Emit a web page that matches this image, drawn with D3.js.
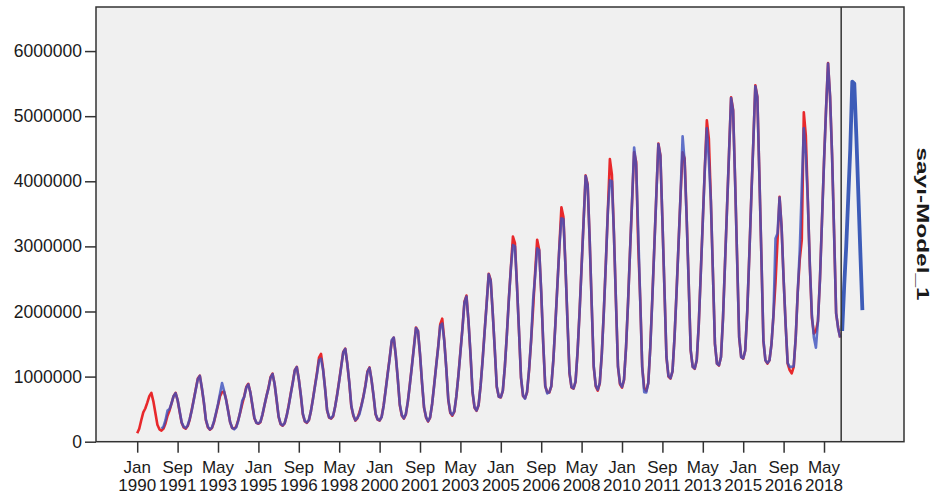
<!DOCTYPE html>
<html>
<head>
<meta charset="utf-8">
<script src="https://cdn.jsdelivr.net/npm/d3@7"></script>
<style>
  body { margin: 0; background: #fff; }
  svg text { font-family: Arial, "Liberation Sans", sans-serif; fill: #1a1a1a; }
</style>
</head>
<body>
<svg id="chart" width="933" height="494"></svg>
<script>
// monthly values, in thousands; observed Jan 1990 .. Jan 2019
const observed = [
  130, 200, 330, 450, 510, 600, 700, 750, 620, 440, 260, 190,
  170, 200, 280, 400, 480, 590, 700, 750, 640, 460, 290, 220,
  200, 240, 340, 490, 650, 810, 970, 1015, 820, 600, 330, 220,
  185, 210, 300, 430, 560, 700, 760, 770, 650, 480, 300, 210,
  200, 230, 330, 450, 580, 700, 840, 890, 760, 560, 360, 290,
  275, 300, 410, 560, 700, 830, 990, 1045, 890, 640, 380, 270,
  245, 280, 400, 560, 740, 910, 1100, 1150, 960, 710, 420, 310,
  290, 330, 470, 660, 860, 1060, 1290, 1350, 1120, 820, 480, 370,
  355, 390, 540, 730, 940, 1160, 1380, 1430, 1200, 900, 540, 400,
  325, 360, 450, 560, 700, 870, 1080, 1140, 950, 700, 420, 340,
  325, 380, 560, 800, 1050, 1290, 1540, 1600, 1320, 960, 560, 400,
  355, 420, 620, 890, 1170, 1460, 1755, 1700, 1340, 900, 520, 370,
  310, 370, 580, 870, 1170, 1460, 1800, 1890, 1560, 1130, 640, 440,
  400, 460, 700, 1020, 1380, 1740, 2150, 2245, 1850, 1340, 760, 520,
  475, 560, 860, 1260, 1700, 2130, 2580, 2480, 1980, 1420, 840, 690,
  680, 780, 1150, 1650, 2200, 2680, 3150, 3050, 2400, 1700, 980, 700,
  670, 760, 1100, 1550, 2050, 2600, 3100, 2950, 2300, 1500, 850, 760,
  755, 850, 1250, 1800, 2400, 3000, 3600, 3450, 2700, 1850, 1050, 830,
  815, 920, 1380, 2000, 2700, 3400, 4090, 3950, 3100, 2100, 1150, 850,
  785, 900, 1350, 2000, 2750, 3550, 4340, 4100, 3200, 2150, 1150, 880,
  830, 950, 1450, 2150, 2950, 3700, 4450, 4300, 3050, 2200, 1150, 820,
  780, 900, 1450, 2200, 3000, 3800, 4580, 4400, 3400, 2350, 1300, 1000,
  970, 1080, 1600, 2300, 3050, 3800, 4445, 4350, 3450, 2450, 1400, 1150,
  1120, 1250, 1800, 2600, 3400, 4200, 4935, 4650, 3700, 2600, 1500, 1200,
  1170, 1300, 1900, 2750, 3600, 4450, 5290, 5100, 4000, 2800, 1600, 1300,
  1275, 1400, 2000, 2850, 3750, 4600, 5475, 5300, 4100, 2850, 1550, 1250,
  1200, 1250, 1500, 1950, 2450, 3100, 3760, 3300, 2500, 1800, 1200, 1100,
  1050, 1150, 1600, 2300, 2800, 3100, 5060, 4700, 3700, 2700, 1900, 1660,
  1700, 1850, 2500, 3400, 4300, 5100, 5815, 5300, 4400, 3200, 1970, 1750,
  1600
];

// model fit, Jan 1991 .. Jan 2019
const fitted = [
  200, 230, 330, 477, 500, 590, 700, 745, 640, 470, 300, 230,
  210, 250, 350, 480, 640, 800, 960, 1010, 830, 610, 340, 230,
  190, 215, 310, 440, 580, 740, 900, 780, 640, 470, 300, 215,
  190, 220, 320, 460, 630, 690, 830, 880, 760, 570, 370, 290,
  280, 305, 420, 560, 700, 820, 980, 1040, 890, 650, 390, 275,
  250, 285, 400, 550, 730, 900, 1090, 1145, 960, 720, 430, 315,
  295, 335, 470, 650, 850, 1040, 1250, 1275, 1110, 820, 490, 375,
  360, 400, 540, 720, 930, 1150, 1370, 1425, 1200, 910, 550, 410,
  330, 365, 420, 550, 690, 860, 1070, 1135, 950, 710, 430, 345,
  330, 380, 550, 790, 1040, 1280, 1560, 1600, 1330, 970, 570, 410,
  360, 425, 620, 880, 1160, 1450, 1745, 1700, 1350, 910, 530, 380,
  315, 375, 580, 860, 1160, 1450, 1780, 1815, 1550, 1130, 650, 450,
  410, 470, 700, 1010, 1370, 1730, 2140, 2230, 1850, 1350, 770, 530,
  480, 565, 860, 1250, 1690, 2120, 2570, 2470, 1980, 1430, 850, 690,
  685, 785, 1150, 1640, 2190, 2670, 3020, 3000, 2400, 1710, 990, 710,
  660, 770, 1110, 1560, 2180, 2550, 2970, 2940, 2310, 1520, 860, 740,
  760, 855, 1250, 1790, 2390, 2990, 3430, 3420, 2700, 1860, 1060, 840,
  820, 925, 1380, 1990, 2690, 3390, 4080, 3940, 3100, 2110, 1160, 860,
  800, 905, 1350, 1990, 2740, 3540, 4015, 4000, 3190, 2160, 1160, 900,
  840, 955, 1450, 2140, 2940, 3710, 4520, 4250, 3250, 2190, 1150, 760,
  755, 900, 1440, 2190, 2990, 3790, 4570, 4390, 3400, 2360, 1310, 1010,
  975, 1085, 1600, 2290, 3040, 3800, 4690, 4300, 3440, 2450, 1410, 1150,
  1125, 1255, 1800, 2590, 3390, 4190, 4815, 4320, 3690, 2600, 1510, 1200,
  1175, 1300, 1890, 2740, 3590, 4440, 5280, 5080, 3990, 2800, 1610, 1300,
  1280, 1400, 1990, 2840, 3740, 4590, 5460, 5290, 4090, 2850, 1560, 1250,
  1210, 1250, 1500, 1960, 3120, 3200, 3750, 3290, 2500, 1800, 1210, 1150,
  1150, 1160, 1600, 2300, 2950, 3900, 4815, 4400, 3690, 2700, 1950, 1600,
  1445, 1850, 2490, 3390, 4290, 5090, 5810, 5300, 4390, 3200, 1980, 1740,
  1600
];

// forecast, Feb 2019 .. Dec 2019
const forecast = [1700, 2400, 3000, 3750, 4500, 5530, 5500, 4700, 3800, 2900, 2020];

const startYear = 1990;
const fitStart = 12;        // Jan 1991
const forecastStart = 349;  // Feb 2019
const monthNames = ["Jan","Feb","Mar","Apr","May","Jun","Jul","Aug","Sep","Oct","Nov","Dec"];
const xTickLabels = [
  ["Jan","1990"],["Sep","1991"],["May","1993"],["Jan","1995"],["Sep","1996"],["May","1998"],
  ["Jan","2000"],["Sep","2001"],["May","2003"],["Jan","2005"],["Sep","2006"],["May","2008"],
  ["Jan","2010"],["Sep","2011"],["May","2013"],["Jan","2015"],["Sep","2016"],["May","2018"]
];
const yTicks = [0, 1000000, 2000000, 3000000, 4000000, 5000000, 6000000];
const seriesTitle = "sayı-Model_1";
const UNIT = 1000;

(() => {
  const plot = { left: 96, right: 904, top: 7, bottom: 441.7 };
  const svg = d3.select("#chart");

  const x = d3.scaleLinear().domain([-20.4, 379.6]).range([plot.left, plot.right]);
  const y = d3.scaleLinear().domain([0, 6677000]).range([plot.bottom, plot.top]);

  svg.append("rect")
    .attr("x", plot.left).attr("y", plot.top)
    .attr("width", plot.right - plot.left).attr("height", plot.bottom - plot.top)
    .attr("fill", "#f0f0f0");

  const monthIndex = ([mon, yr]) => (+yr - startYear) * 12 + monthNames.indexOf(mon);

  // axes
  const yAxis = svg.append("g")
    .attr("transform", `translate(${plot.left},0)`)
    .call(d3.axisLeft(y).tickValues(yTicks).tickFormat(d3.format("d")).tickSize(11).tickPadding(3).tickSizeOuter(0));
  yAxis.select(".domain").remove();
  yAxis.selectAll("line").attr("stroke", "#333").attr("stroke-width", 1.5);
  yAxis.selectAll("text").style("font-size", "17.5px").attr("fill", "#1a1a1a");

  const xAxis = svg.append("g")
    .attr("transform", `translate(0,${plot.bottom})`)
    .call(d3.axisBottom(x).tickValues(xTickLabels.map(monthIndex)).tickFormat("").tickSize(11).tickSizeOuter(0));
  xAxis.select(".domain").remove();
  xAxis.selectAll("line").attr("stroke", "#333").attr("stroke-width", 1.5);

  // two-line tick labels: month above, year below
  const labels = svg.append("g").style("font-size", "17px").attr("text-anchor", "middle");
  xTickLabels.forEach(l => {
    labels.append("text").attr("x", x(monthIndex(l))).attr("y", 473).text(l[0]);
    labels.append("text").attr("x", x(monthIndex(l))).attr("y", 491).text(l[1]);
  });

  // series
  const line = offset => d3.line()
    .x((d, i) => x(i + offset))
    .y(d => y(d * UNIT));

  svg.append("path").datum(observed)
    .attr("fill", "none").attr("stroke", "#e8282b").attr("stroke-width", 2.6)
    .attr("stroke-linejoin", "round").attr("d", line(0));

  svg.append("path").datum(fitted)
    .attr("fill", "none").attr("stroke", "#3c50be").attr("stroke-opacity", 0.8).attr("stroke-width", 2.6)
    .attr("stroke-linejoin", "round").attr("d", line(fitStart));

  svg.append("path").datum(forecast)
    .attr("fill", "none").attr("stroke", "#3d5cb8").attr("stroke-width", 3.8)
    .attr("stroke-linejoin", "round").attr("d", line(forecastStart));

  // forecast start marker
  svg.append("line")
    .attr("x1", x(forecastStart - 0.5)).attr("x2", x(forecastStart - 0.5))
    .attr("y1", plot.top).attr("y2", plot.bottom)
    .attr("stroke", "#333").attr("stroke-width", 1.5);

  // frame
  svg.append("rect")
    .attr("x", plot.left).attr("y", plot.top)
    .attr("width", plot.right - plot.left).attr("height", plot.bottom - plot.top)
    .attr("fill", "none").attr("stroke", "#333").attr("stroke-width", 1.5);

  svg.append("text")
    .attr("transform", "translate(917,224) rotate(90)")
    .attr("text-anchor", "middle")
    .attr("textLength", 153).attr("lengthAdjust", "spacingAndGlyphs")
    .style("font-size", "16.5px").style("font-weight", "bold")
    .text(seriesTitle);
})();
</script>
</body>
</html>
